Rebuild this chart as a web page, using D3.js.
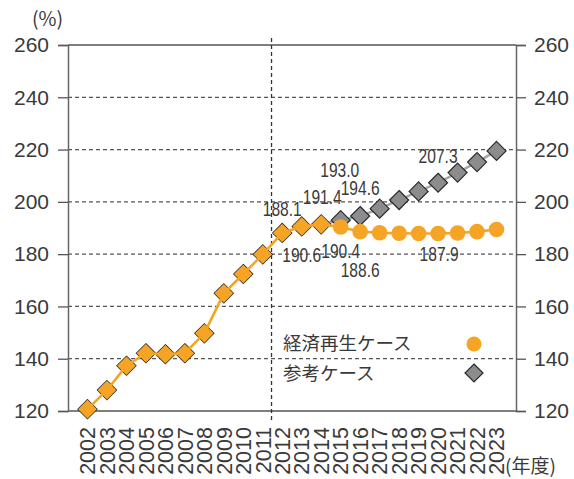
<!DOCTYPE html>
<html><head><meta charset="utf-8">
<script src="https://cdn.jsdelivr.net/npm/d3@7"></script>
<style>body{margin:0;background:#fff}svg{display:block}</style>
</head><body><svg id="c" width="574" height="479"></svg>
<script>
const years = ["2002","2003","2004","2005","2006","2007","2008","2009","2010","2011","2012","2013","2014","2015","2016","2017","2018","2019","2020","2021","2022","2023"];
const revival = [120.7,128.0,137.3,142.1,141.7,142.1,149.7,165.0,172.4,179.9,188.1,190.6,191.4,190.4,188.6,188.2,188.0,187.9,187.9,188.1,188.6,189.4];
const reference = [120.7,128.0,137.3,142.1,141.7,142.1,149.7,165.0,172.4,179.9,188.1,190.6,191.4,193.0,194.6,197.4,200.7,204.0,207.3,211.2,215.2,219.5];
const historyEnd = "2014";
const yTicks = [120,140,160,180,200,220,240,260];
const seriesNames = ["経済再生ケース","参考ケース"];
// annotations: [year, value text, dx, dy] — label baseline offset from the point
const notes = [
  ["2012","188.1",0,-17],["2013","190.6",0,36],["2014","191.4",1,-20],
  ["2015","190.4",0,31],["2015","193.0",-1,-43],["2016","194.6",0,-21],
  ["2016","188.6",0,45],["2020","187.9",1,28],["2020","207.3",0,-20]
];

const svg = d3.select("#c");
const L=68,R=516,T=45,B=411;
const x = d3.scalePoint().domain(years).range([L,R]).padding(1);
const y = d3.scaleLinear().domain([120,260]).range([B,T]);
const ORANGE="#F5A425", GRAYF="#8c8c8e", TXT="#3a3a3a";
const FONT="Liberation Sans, Arial, sans-serif";

svg.append("g").selectAll("line").data(yTicks.filter(v=>v>120&&v<260)).join("line")
  .attr("x1",L).attr("x2",R).attr("y1",d=>y(d)).attr("y2",d=>y(d))
  .attr("stroke","#555").attr("stroke-width",1.2).attr("stroke-dasharray","4,3");
[260,120].forEach(v=>svg.append("line").attr("x1",L).attr("x2",R).attr("y1",y(v)).attr("y2",y(v)).attr("stroke","#555").attr("stroke-width",1.5));

const axL = d3.axisLeft(y).tickValues(yTicks).tickSize(10).tickPadding(9);
const axR = d3.axisRight(y).tickValues(yTicks).tickSize(10).tickPadding(8);
[ [axL,L],[axR,R] ].forEach(([ax,px])=>{
  const g = svg.append("g").attr("transform",`translate(${px},0)`).call(ax);
  g.select(".domain").attr("stroke","#666").attr("stroke-width",1.5);
  g.selectAll(".tick line").attr("stroke","#555").attr("stroke-width",1.3);
  g.selectAll("text").attr("font-family",FONT).attr("font-size",21).attr("fill",TXT);
});

const xd = (x("2011")+x("2012"))/2 - 1;
svg.append("line").attr("x1",xd).attr("x2",xd).attr("y1",38).attr("y2",422)
  .attr("stroke","#333").attr("stroke-width",1.3).attr("stroke-dasharray","4,3");

svg.append("g").selectAll("text").data(years).join("text")
  .attr("transform",d=>`translate(${x(d)},427) rotate(-90)`)
  .attr("text-anchor","end").attr("dy","0.36em")
  .attr("font-family",FONT).attr("font-size",21.5).attr("fill",TXT)
  .text(d=>d);
svg.append("text").attr("x",505).attr("y",473).attr("font-family","Noto Sans CJK JP, sans-serif")
  .attr("font-size",19).attr("fill",TXT).text("(年度)");
svg.append("text").attr("x",32).attr("y",26).attr("font-family","Noto Sans CJK JP, sans-serif")
  .attr("font-size",19.5).attr("fill",TXT).text("(%)");

const hi = years.indexOf(historyEnd);
svg.append("path").datum(reference.slice(hi)).attr("fill","none").attr("stroke","#a5a5a5").attr("stroke-width",2.5)
  .attr("d",d3.line().x((d,i)=>x(years[i+hi])).y(d=>y(d)));
const diamond = (s)=>`M0,${-s}L${s},0L0,${s}L${-s},0Z`;
svg.append("g").selectAll("path").data(reference).join("path")
  .attr("transform",(d,i)=>`translate(${x(years[i])},${y(d)})`)
  .attr("d",diamond(9.5)).attr("fill",GRAYF).attr("stroke","#2a2a2a").attr("stroke-width",1.2);
svg.append("path").datum(revival).attr("fill","none").attr("stroke",ORANGE).attr("stroke-width",2.6)
  .attr("d",d3.line().x((d,i)=>x(years[i])).y(d=>y(d)));
svg.append("g").selectAll("path").data(revival.slice(0,hi+1)).join("path")
  .attr("transform",(d,i)=>`translate(${x(years[i])},${y(d)})`)
  .attr("d",diamond(9.3)).attr("fill",ORANGE);
svg.append("g").selectAll("circle").data(revival.slice(hi+1)).join("circle")
  .attr("cx",(d,i)=>x(years[i+hi+1])).attr("cy",d=>y(d)).attr("r",7.8).attr("fill",ORANGE);

svg.append("g").selectAll("text").data(notes).join("text")
  .attr("transform",d=>`translate(${x(d[0])+d[2]},${y(+d[1])+d[3]}) scale(0.76,1)`)
  .attr("text-anchor","middle").attr("font-family",FONT)
  .attr("font-size",20.5).attr("fill",TXT).text(d=>d[1]);

const lg = svg.append("g");
lg.append("text").attr("x",283).attr("y",350).attr("font-family","Noto Sans CJK JP, sans-serif").attr("font-size",18.5).attr("fill",TXT).text(seriesNames[0]);
lg.append("text").attr("x",283).attr("y",380).attr("font-family","Noto Sans CJK JP, sans-serif").attr("font-size",18.5).attr("fill",TXT).text(seriesNames[1]);
lg.append("circle").attr("cx",474).attr("cy",344).attr("r",7.5).attr("fill",ORANGE);
lg.append("path").attr("transform","translate(474,373)").attr("d",diamond(9)).attr("fill",GRAYF).attr("stroke","#2a2a2a").attr("stroke-width",1.2);
</script></body></html>
